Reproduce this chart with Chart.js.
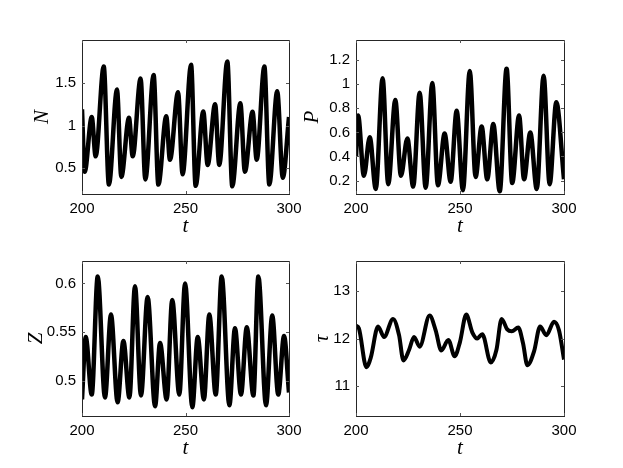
<!DOCTYPE html>
<html>
<head>
<meta charset="utf-8">
<script src="https://cdn.jsdelivr.net/npm/chart.js@4/dist/chart.umd.min.js"></script>
<style>
  body { margin: 0; background: #fff; }
  #fig { position: relative; width: 623px; height: 468px; background: #fff; }
  canvas { position: absolute; }
</style>
</head>
<body>
<div id="fig">
  <canvas id="cN"></canvas>
  <canvas id="cP"></canvas>
  <canvas id="cZ"></canvas>
  <canvas id="cTau"></canvas>
</div>
<script>
// time axis
var tTicks = [200, 250, 300];

// N(t)
var tN = [200, 201.3, 204.7, 206.6, 210.5, 213.0, 216.9, 219.0, 222.7, 224.5, 228.3, 230.6, 234.6, 236.9, 240.7, 242.5, 246.4, 248.6,
          252.7, 254.9, 258.6, 260.7, 264.3, 266.3, 270.2, 272.6, 276.5, 278.7, 282.4, 284.4, 288.1, 290.5, 294.3, 297.0, 300];
var vN = [1.19, 0.46, 1.10, 0.64, 1.69, 0.31, 1.42, 0.40, 1.09, 0.64, 1.55, 0.37, 1.59, 0.31, 1.11, 0.60, 1.39, 0.43,
          1.71, 0.295, 1.165, 0.54, 1.25, 0.54, 1.75, 0.29, 1.26, 0.46, 1.16, 0.60, 1.69, 0.31, 1.40, 0.39, 1.10];
var nTicks = [0.5, 1, 1.5];

// P(t)
var tP = [200, 201, 203.8, 206.6, 209.5, 212.8, 215.5, 218.9, 221.6, 224.7, 227.5, 230.6, 233.5, 236.7, 239.4, 242.6, 245.5, 248.4,
          251.4, 254.7, 257.5, 260.4, 263.1, 266.0, 269.1, 272.4, 275.1, 278.4, 280.8, 283.8, 286.9, 290.2, 293.1, 296.3, 300];
var vP = [0.40, 0.74, 0.24, 0.56, 0.13, 1.05, 0.17, 0.87, 0.24, 0.55, 0.15, 0.93, 0.14, 1.01, 0.16, 0.59, 0.19, 0.78,
          0.12, 1.11, 0.23, 0.65, 0.21, 0.67, 0.11, 1.13, 0.18, 0.74, 0.21, 0.60, 0.13, 1.07, 0.17, 0.85, 0.21];
var pTicks = [0.2, 0.4, 0.6, 0.8, 1, 1.2];

// Z(t)
var tZ = [200, 201.8, 204.7, 207.6, 211.1, 214.0, 217.2, 220.0, 222.9, 225.6, 228.5, 231.7, 235.3, 237.7, 240.9, 243.6, 247.0, 249.8,
          253.3, 255.9, 258.9, 261.5, 264.6, 267.5, 271.2, 273.9, 276.8, 279.6, 282.8, 285.2, 288.9, 291.9, 294.8, 297.6, 300];
var vZ = [0.481, 0.545, 0.486, 0.607, 0.483, 0.568, 0.478, 0.541, 0.483, 0.597, 0.485, 0.586, 0.474, 0.539, 0.481, 0.583, 0.486, 0.600,
          0.473, 0.545, 0.481, 0.568, 0.486, 0.607, 0.475, 0.554, 0.486, 0.555, 0.485, 0.607, 0.475, 0.567, 0.486, 0.546, 0.488];
var zTicks = [0.5, 0.55, 0.6];

// tau(t)
var tTau = [200, 201.4, 205.0, 207.1, 210.6, 213.5, 217.8, 220.7, 222.8, 225.5, 227.9, 230.6, 235.4, 238.3, 241.0, 244.4, 247.4, 250.0,
            253.0, 255.9, 258.3, 260.7, 264.8, 267.5, 270.0, 272.7, 274.9, 278.0, 280.3, 282.4, 285.6, 288.5, 291.5, 295.2, 297.6, 300];
var vTau = [12.27, 12.21, 11.40, 11.60, 12.25, 12.03, 12.41, 12.07, 11.54, 11.76, 12.03, 11.83, 12.48, 12.17, 11.75, 11.97, 11.63, 11.93,
            12.50, 12.13, 12.00, 12.09, 11.50, 11.76, 12.41, 12.19, 12.15, 12.23, 11.90, 11.44, 11.73, 12.25, 12.07, 12.35, 12.17, 11.56];
var tauTicks = [11, 12, 13];

// box + inward ticks like matlab
var boxPlugin = {
  id: 'box',
  afterDraw: function(chart) {
    var ctx = chart.ctx, a = chart.chartArea;
    var xs = chart.scales.x, ys = chart.scales.y;
    ctx.save();
    ctx.strokeStyle = '#262626';
    ctx.lineWidth = 1;
    ctx.strokeRect(Math.round(a.left) + 0.5, Math.round(a.top) + 0.5, Math.round(a.right - a.left), Math.round(a.bottom - a.top));
    ctx.strokeStyle = '#555';
    ctx.beginPath();
    xs.ticks.forEach(function(tk) {
      var px = Math.round(xs.getPixelForValue(tk.value)) + 0.5;
      ctx.moveTo(px, a.bottom); ctx.lineTo(px, a.bottom - 3);
      ctx.moveTo(px, a.top); ctx.lineTo(px, a.top + 3);
    });
    ys.ticks.forEach(function(tk) {
      var py = Math.round(ys.getPixelForValue(tk.value)) + 0.5;
      ctx.moveTo(a.left, py); ctx.lineTo(a.left + 3, py);
      ctx.moveTo(a.right, py); ctx.lineTo(a.right - 3, py);
    });
    ctx.stroke();
    ctx.restore();
  }
};

function makePanel(id, box, label, ts, vs, yTicks, yMin, yMax, titleDx, lw) {
  var L = 60, T = 10, R = 25, B = 45;
  var cv = document.getElementById(id);
  cv.width = box.w + L + R;
  cv.height = box.h + T + B;
  cv.style.left = (box.left - L) + 'px';
  cv.style.top = (box.top - T) + 'px';
  var pts = ts.map(function(t, i) { return { x: t, y: vs[i] }; });
  return new Chart(cv.getContext('2d'), {
    type: 'line',
    data: {
      datasets: [{
        data: pts,
        borderColor: '#000',
        borderWidth: lw,
        pointRadius: 0,
        fill: false,
        cubicInterpolationMode: 'monotone'
      }]
    },
    options: {
      responsive: false,
      animation: false,
      devicePixelRatio: 1,
      layout: { padding: { left: 0, top: T, right: R, bottom: 0 } },
      plugins: { legend: { display: false }, tooltip: { enabled: false } },
      scales: {
        x: {
          type: 'linear',
          min: 200, max: 300,
          afterBuildTicks: function(s) { s.ticks = tTicks.map(function(v) { return { value: v }; }); },
          afterFit: function(s) { s.height = B; },
          grid: { display: false, drawTicks: false },
          border: { display: false },
          ticks: { color: '#000', padding: 6, maxRotation: 0, font: { family: 'Liberation Sans', size: 15 } },
          title: { display: true, text: 't', color: '#000', padding: { top: 0, bottom: 0 },
                   font: { family: 'Liberation Serif', style: 'italic', size: 21 } }
        },
        y: {
          min: yMin, max: yMax,
          afterBuildTicks: function(s) { s.ticks = yTicks.map(function(v) { return { value: v }; }); },
          afterFit: function(s) { s.width = L; },
          grid: { display: false, drawTicks: false },
          border: { display: false },
          ticks: { color: '#000', padding: 6, font: { family: 'Liberation Sans', size: 15 },
                   callback: function(v) { return String(v); } },
          title: { display: true, text: label, color: '#000', padding: { top: L - titleDx - 12, bottom: 0 },
                   font: { family: 'Liberation Serif', style: 'italic', size: 21 } }
        }
      }
    },
    plugins: [boxPlugin]
  });
}

makePanel('cN', { left: 82, top: 35, w: 207, h: 159 }, 'N', tN, vN, nTicks, 0.2, 2.0, 40, 4.5);
makePanel('cP', { left: 356, top: 35, w: 208, h: 159 }, 'P', tP, vP, pTicks, 0.088, 1.368, 44, 4.5);
makePanel('cZ', { left: 82, top: 256, w: 207, h: 160 }, 'Z', tZ, vZ, zTicks, 0.464, 0.623, 46, 4.5);
makePanel('cTau', { left: 356, top: 256, w: 208, h: 160 }, 'τ', tTau, vTau, tauTicks, 10.38, 13.62, 34, 4);
</script>
</body>
</html>
